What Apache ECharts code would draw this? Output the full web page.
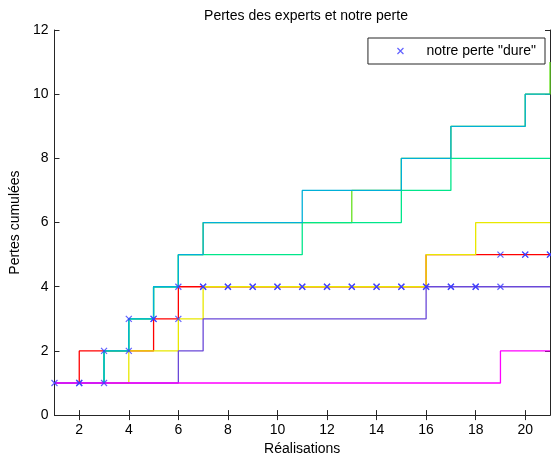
<!DOCTYPE html>
<html>
<head>
<meta charset="utf-8">
<script src="https://cdn.jsdelivr.net/npm/echarts@6/dist/echarts.min.js"></script>
<style>
  html, body { margin: 0; padding: 0; background: #fff; }
  #chart { width: 551px; height: 461px; }
</style>
</head>
<body>
<div id="chart"></div>
<script>
// Realisations 1..21
const realisations = [1,2,3,4,5,6,7,8,9,10,11,12,13,14,15,16,17,18,19,20,21];

// Cumulative loss of each expert at each realisation
const expertRouge   = [1,2,2,2,3,4,4,4,4,4,4,4,4,4,4,5,5,5,5,5,5];
const expertJaune   = [1,1,1,2,2,3,4,4,4,4,4,4,4,4,4,5,5,6,6,6,6];
const expertVertC   = [1,1,2,3,4,5,6,6,6,6,6,6,7,7,8,8,9,9,9,10,11];
const expertVert    = [1,1,2,3,4,5,5,5,5,5,6,6,6,6,7,7,8,8,8,8,8];
const expertCyan    = [1,1,2,3,4,5,6,6,6,6,7,7,7,7,8,8,9,9,9,10,10];
const expertViolet  = [1,1,1,1,1,2,3,3,3,3,3,3,3,3,3,4,4,4,4,4,4];
const expertMagenta = [1,1,1,1,1,1,1,1,1,1,1,1,1,1,1,1,1,1,2,2,2];

// Our own ("hard") cumulative loss
const notrePerte = [1,1,2,3,3,4,4,4,4,4,4,4,4,4,4,4,4,4,5,5,5];

// Tick labels
const xTicks = [2,4,6,8,10,12,14,16,18,20];
const yTicks = [0,2,4,6,8,10,12];

const experts = [
  { data: expertRouge,   color: '#ff0000' },
  { data: expertJaune,   color: '#e8e800' },
  { data: expertVertC,   color: '#66e020' },
  { data: expertVert,    color: '#00e68a' },
  { data: expertCyan,    color: '#00b0d8' },
  { data: expertViolet,  color: '#6a48d8' },
  { data: expertMagenta, color: '#ff00ff' }
];

// Corner points of the staircase: (k, y[k-1]) and (k, y[k])
const notrePoints = [];
realisations.forEach((x, i) => {
  if (i > 0) notrePoints.push([x, notrePerte[i - 1]]);
  notrePoints.push([x, notrePerte[i]]);
});

const crossPath = 'path://M0,0L10,10M10,0L0,10';
const FONT = 'Liberation Sans, Arial, sans-serif';
const axisColor = '#262626';

const chart = echarts.init(document.getElementById('chart'));

const series = experts.map((e, i) => ({
  name: 'expert' + (i + 1),
  type: 'line',
  step: 'end',
  showSymbol: false,
  symbol: 'none',
  silent: true,
  lineStyle: { color: e.color, width: 1.3 },
  data: realisations.map((x, k) => [x, e.data[k]])
}));

series.push({
  name: 'notre perte "dure"',
  type: 'scatter',
  symbol: crossPath,
  symbolSize: 6,
  itemStyle: { color: 'none', borderColor: '#3a3aff', borderWidth: 1.2 },
  data: notrePoints,
  z: 5
});

const xBase = {
  type: 'value', min: 1, max: 21,
  splitLine: { show: false },
  axisLine: { show: true, lineStyle: { color: axisColor, width: 1 } },
  axisTick: { show: true, inside: true, length: 5, customValues: xTicks, lineStyle: { color: axisColor } }
};
const yBase = {
  type: 'value', min: 0, max: 12, interval: 2,
  splitLine: { show: false },
  axisLine: { show: true, lineStyle: { color: axisColor, width: 1 } },
  axisTick: { show: true, inside: true, length: 5, customValues: yTicks, lineStyle: { color: axisColor } }
};

chart.setOption({
  animation: false,
  backgroundColor: '#fff',
  title: {
    text: 'Pertes des experts et notre perte',
    left: 301, textAlign: 'center', top: 4,
    textStyle: { fontFamily: FONT, fontSize: 14, fontWeight: 'normal', color: '#000' }
  },
  legend: {
    data: [{ name: 'notre perte "dure"', icon: crossPath,
             itemStyle: { color: 'none', borderColor: '#3a3aff', borderWidth: 1.2 } }],
    right: 6, top: 38,
    orient: 'vertical',
    backgroundColor: '#fff',
    borderColor: '#262626', borderWidth: 1, borderRadius: 0,
    padding: [6, 9, 6, 27],
    itemWidth: 6, itemHeight: 6, itemGap: 0,
    textStyle: { fontFamily: FONT, fontSize: 14, color: '#000', padding: [0, 0, 0, 18] }
  },
  grid: { left: 52, right: 1, top: 30, bottom: 39, containLabel: false },
  xAxis: [
    Object.assign({}, xBase, {
      position: 'bottom',
      name: 'Réalisations', nameLocation: 'middle', nameGap: 25,
      nameTextStyle: { fontFamily: FONT, fontSize: 14, color: '#000' },
      axisLabel: { show: true, customValues: xTicks, margin: 8,
                   fontFamily: FONT, fontSize: 14, color: '#000' }
    }),
    Object.assign({}, xBase, { position: 'top', axisLabel: { show: false } })
  ],
  yAxis: [
    Object.assign({}, yBase, {
      position: 'left',
      name: 'Pertes cumulées', nameLocation: 'middle', nameGap: 32,
      nameTextStyle: { fontFamily: FONT, fontSize: 14, color: '#000' },
      axisLabel: { show: true, margin: 6, fontFamily: FONT, fontSize: 14, color: '#000' }
    }),
    Object.assign({}, yBase, { position: 'right', axisLabel: { show: false } })
  ],
  series: series
});
</script>
</body>
</html>
